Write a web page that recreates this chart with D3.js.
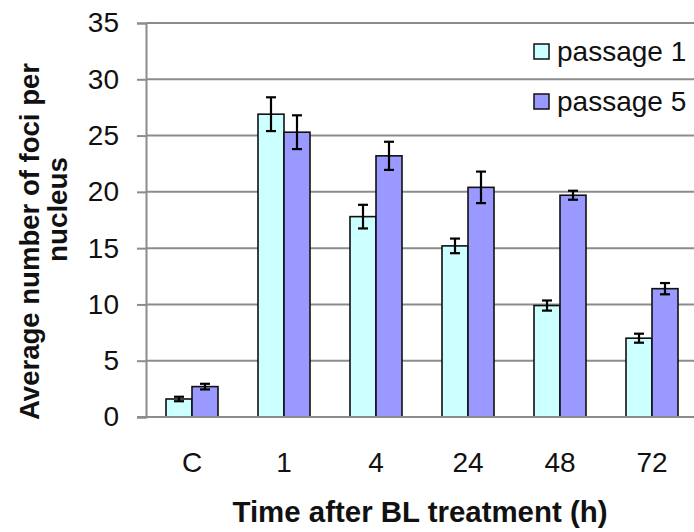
<!DOCTYPE html>
<html>
<head>
<meta charset="utf-8">
<script src="https://cdn.jsdelivr.net/npm/d3@7"></script>
<style>
  body { margin: 0; background: #fff; }
  svg { display: block; font-family: "Liberation Sans", Arial, sans-serif; }
</style>
</head>
<body>
<svg id="chart" width="694" height="532"></svg>
<script>
// data
const categories = ['C', '1', '4', '24', '48', '72'];
const seriesNames = ['passage 1', 'passage 5'];
const passage1 = [1.6, 26.9, 17.8, 15.2, 9.9, 7.0];
const passage5 = [2.7, 25.3, 23.2, 20.4, 19.7, 11.4];
const passage1Err = [0.2, 1.5, 1.05, 0.65, 0.45, 0.4];
const passage5Err = [0.25, 1.5, 1.25, 1.4, 0.4, 0.5];
const yTicks = [0, 5, 10, 15, 20, 25, 30, 35];
const colors = ['#ccffff', '#9999ff'];

const svg = d3.select('#chart');
const plotLeft = 146, plotRight = 698, plotTop = 23, plotBottom = 417;
const fontFamily = '"Liberation Sans", Arial, sans-serif';

const y = d3.scaleLinear().domain([0, 35]).range([plotBottom, plotTop]);
const x0 = d3.scaleBand().domain(categories).range([plotLeft, plotRight])
  .paddingInner(40 / 92).paddingOuter(20 / 92);
const x1 = d3.scaleBand().domain(seriesNames).range([0, x0.bandwidth()]);

// gridlines + y axis
const axisY = d3.axisLeft(y).tickValues(yTicks).tickSize(9).tickPadding(18)
  .tickFormat(d3.format('d'));
const gy = svg.append('g')
  .attr('transform', `translate(${plotLeft},0)`)
  .call(axisY);
gy.select('.domain').attr('stroke', '#8c8c8c').attr('stroke-width', 2);
gy.selectAll('.tick line').attr('stroke', '#8c8c8c').attr('stroke-width', 2);
gy.selectAll('.tick text').attr('font-size', 28).attr('fill', '#111')
  .attr('font-family', fontFamily);

svg.append('g').selectAll('line')
  .data(yTicks)
  .join('line')
  .attr('x1', plotLeft).attr('x2', 694)
  .attr('y1', d => y(d)).attr('y2', d => y(d))
  .attr('stroke', '#8c8c8c').attr('stroke-width', 2);

// x axis labels (no ticks)
const axisX = d3.axisBottom(x0).tickSize(0).tickPadding(35);
const gx = svg.append('g')
  .attr('transform', `translate(0,${plotBottom})`)
  .call(axisX);
gx.select('.domain').remove();
gx.selectAll('.tick text').attr('font-size', 28).attr('fill', '#111')
  .attr('font-family', fontFamily);

// bars
const rows = categories.map((c, i) => ({
  cat: c,
  vals: [
    { s: seriesNames[0], v: passage1[i], e: passage1Err[i], c: colors[0] },
    { s: seriesNames[1], v: passage5[i], e: passage5Err[i], c: colors[1] }
  ]
}));

const groups = svg.append('g').selectAll('g')
  .data(rows)
  .join('g')
  .attr('transform', d => `translate(${x0(d.cat)},0)`);

groups.selectAll('rect')
  .data(d => d.vals)
  .join('rect')
  .attr('x', d => x1(d.s))
  .attr('width', x1.bandwidth())
  .attr('y', d => y(d.v))
  .attr('height', d => y(0) - y(d.v))
  .attr('fill', d => d.c)
  .attr('stroke', '#111')
  .attr('stroke-width', 1.6);

// error bars
const eb = groups.selectAll('g.err')
  .data(d => d.vals)
  .join('g')
  .attr('class', 'err')
  .attr('stroke', '#000')
  .attr('stroke-width', 2.2);
const cx = d => x1(d.s) + x1.bandwidth() / 2;
eb.append('line')
  .attr('x1', cx).attr('x2', cx)
  .attr('y1', d => y(d.v + d.e)).attr('y2', d => y(d.v - d.e));
eb.append('line')
  .attr('x1', d => cx(d) - 5).attr('x2', d => cx(d) + 5)
  .attr('y1', d => y(d.v + d.e)).attr('y2', d => y(d.v + d.e));
eb.append('line')
  .attr('x1', d => cx(d) - 5).attr('x2', d => cx(d) + 5)
  .attr('y1', d => y(d.v - d.e)).attr('y2', d => y(d.v - d.e));

// bottom axis line drawn over bars
svg.append('line')
  .attr('x1', plotLeft - 9).attr('x2', 694)
  .attr('y1', plotBottom).attr('y2', plotBottom)
  .attr('stroke', '#8c8c8c').attr('stroke-width', 2);

// legend
const legend = svg.append('g').selectAll('g')
  .data(seriesNames)
  .join('g')
  .attr('transform', (d, i) => `translate(534,${44 + i * 50})`);
legend.append('rect')
  .attr('width', 15).attr('height', 15)
  .attr('fill', (d, i) => colors[i])
  .attr('stroke', '#111').attr('stroke-width', 1.5);
legend.append('text')
  .attr('x', 23).attr('y', 17)
  .attr('font-size', 28)
  .attr('fill', '#111')
  .text(d => d);

// axis titles
svg.append('text')
  .attr('x', 420).attr('y', 522)
  .attr('text-anchor', 'middle')
  .attr('font-size', 29)
  .attr('font-weight', 'bold')
  .attr('textLength', 375)
  .attr('lengthAdjust', 'spacingAndGlyphs')
  .attr('fill', '#111')
  .text('Time after BL treatment (h)');

const yTitle = svg.append('g')
  .attr('font-size', 28).attr('font-weight', 'bold')
  .attr('fill', '#111')
  .attr('text-anchor', 'middle');
yTitle.append('text')
  .attr('transform', 'translate(39,241.5) rotate(-90)')
  .attr('textLength', 357)
  .attr('lengthAdjust', 'spacingAndGlyphs')
  .text('Average number of foci per');
yTitle.append('text')
  .attr('transform', 'translate(67,209.5) rotate(-90)')
  .attr('textLength', 105)
  .attr('lengthAdjust', 'spacingAndGlyphs')
  .text('nucleus');
</script>
</body>
</html>
